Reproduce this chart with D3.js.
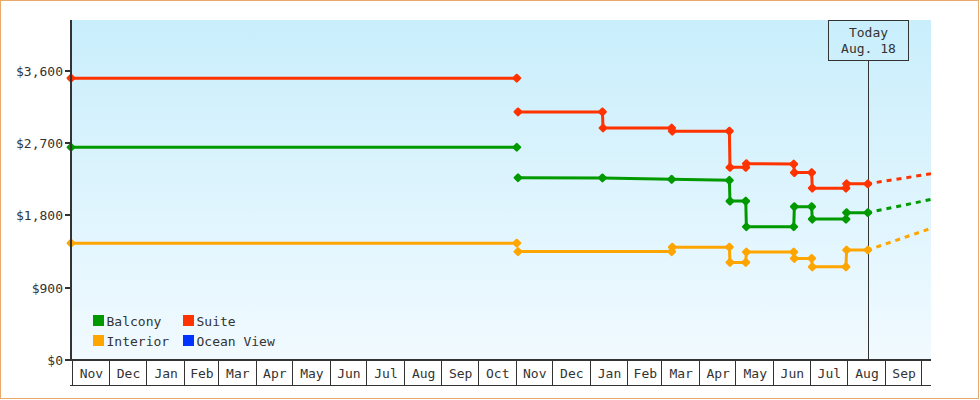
<!DOCTYPE html>
<html><head><meta charset="utf-8">
<script src="https://cdn.jsdelivr.net/npm/d3@7"></script>
<style>
html,body{margin:0;padding:0;background:#fff;}
svg{display:block;font-family:"DejaVu Sans Mono",monospace;}
</style></head><body>
<svg id="chart" width="980" height="400"></svg>
<script>
// ---------- data ----------
const seriesNames = ["Balcony", "Suite", "Interior", "Ocean View"];
const seriesColors = ["#009900", "#ff3300", "#ffa500", "#0033ff"];
const yTickValues = [0, 900, 1800, 2700, 3600];
const todayLabel = ["Today", "Aug. 18"];
const todayDate = "2015-08-18 00";
const domainDates = ["2013-10-31 00", "2015-10-09 00"];
const monthRange = ["2013-11-01 00", "2015-10-01 00"];

// earlier (launch) price segment
const launchDates = ["2013-10-31 00", "2014-11-02 00"];
const launchBalcony = [2650, 2650];
const launchSuite = [3510, 3510];
const launchInterior = [1455, 1455];

// current price history
const priceDates = ["2014-11-03 00", "2015-01-11 12", "2015-01-12 00", "2015-03-09 12", "2015-03-10 00",
  "2015-04-26 00", "2015-04-26 12", "2015-05-09 12", "2015-05-10 00", "2015-06-18 00",
  "2015-06-18 12", "2015-07-02 18", "2015-07-03 06", "2015-07-31 00", "2015-07-31 12", "2015-08-18 00"];
const priceBalcony = [2270, 2268, null, 2250, null, 2238, 1980, 1980, 1660, 1660, 1910, 1910, 1755, 1755, 1835, 1835];
const priceSuite = [3090, 3090, 2890, 2890, 2850, 2850, 2400, 2400, 2445, 2440, 2335, 2335, 2140, 2140, 2195, 2195];
const priceInterior = [1350, null, null, 1350, 1405, 1405, 1215, 1215, 1345, 1345, 1265, 1265, 1160, 1160, 1370, 1370];

// projection (dashed)
const projDates = ["2015-08-18 00", "2015-10-09 00"];
const projBalcony = [1835, 2000];
const projSuite = [2195, 2320];
const projInterior = [1370, 1640];

// ---------- drawing ----------
const parse = d3.timeParse("%Y-%m-%d %H");
const svg = d3.select("#chart");
const L = 71, R = 931, T = 20, B = 360;
const textColor = "#333";

svg.append("rect").attr("x", 0.5).attr("y", 0.5).attr("width", 978).attr("height", 398)
  .attr("fill", "#fff").attr("stroke", "#e8a96a");

const defs = svg.append("defs");
const grad = defs.append("linearGradient").attr("id", "bg").attr("x1", 0).attr("y1", 0).attr("x2", 0).attr("y2", 1);
grad.append("stop").attr("offset", "0%").attr("stop-color", "#c9eefc");
grad.append("stop").attr("offset", "100%").attr("stop-color", "#f1faff");
defs.append("clipPath").attr("id", "plotclip").append("rect")
  .attr("x", L - 6).attr("y", T).attr("width", R - L + 6).attr("height", B - T);

const x = d3.scaleTime().domain(domainDates.map(parse)).range([L, R]);
const y = d3.scaleLinear().domain([0, 4235]).range([B, T]);

svg.append("rect").attr("x", L + 1).attr("y", T).attr("width", R - L - 1).attr("height", B - T)
  .attr("fill", "url(#bg)");

// Today marker
const tx = Math.round(x(parse(todayDate))) + 0.5;
svg.append("line").attr("x1", tx).attr("x2", tx).attr("y1", 61).attr("y2", B)
  .attr("stroke", textColor).attr("stroke-width", 1).attr("shape-rendering", "crispEdges");
svg.append("rect").attr("x", tx - 40).attr("y", 20.5).attr("width", 80).attr("height", 40)
  .attr("fill", "none").attr("stroke", textColor).attr("stroke-width", 1).attr("shape-rendering", "crispEdges");
svg.selectAll("text.today").data(todayLabel).join("text").attr("class", "today")
  .attr("x", tx).attr("y", (d, i) => 37 + i * 16).attr("text-anchor", "middle")
  .attr("font-size", 13).attr("fill", textColor).text(d => d);

// series
const line = d3.line().x(d => x(d.date)).y(d => y(d.v));
function pts(dates, vals) {
  return dates.map((d, i) => ({date: parse(d), v: vals[i]})).filter(p => p.v != null);
}
const seriesData = [
  {color: seriesColors[0], launch: pts(launchDates, launchBalcony), price: pts(priceDates, priceBalcony), proj: pts(projDates, projBalcony)},
  {color: seriesColors[1], launch: pts(launchDates, launchSuite), price: pts(priceDates, priceSuite), proj: pts(projDates, projSuite)},
  {color: seriesColors[2], launch: pts(launchDates, launchInterior), price: pts(priceDates, priceInterior), proj: pts(projDates, projInterior)}
];
const plot = svg.append("g").attr("clip-path", "url(#plotclip)");
seriesData.forEach(s => {
  plot.append("path").datum(s.proj).attr("d", line).attr("fill", "none")
    .attr("stroke", s.color).attr("stroke-width", 3).attr("stroke-dasharray", "5,5").attr("stroke-dashoffset", -9);
  plot.append("path").datum(s.launch).attr("d", line).attr("fill", "none")
    .attr("stroke", s.color).attr("stroke-width", 3);
  plot.append("path").datum(s.price).attr("d", line).attr("fill", "none")
    .attr("stroke", s.color).attr("stroke-width", 3);
});
seriesData.forEach(s => {
  svg.append("g").selectAll("rect").data(s.launch.concat(s.price)).join("rect")
    .attr("x", -3.5).attr("y", -3.5).attr("width", 7).attr("height", 7).attr("rx", 1.2)
    .attr("fill", s.color)
    .attr("transform", d => `translate(${x(d.date)},${y(d.v)}) rotate(45)`);
});

// y axis
svg.append("line").attr("x1", L).attr("x2", L).attr("y1", T).attr("y2", B + 1)
  .attr("stroke", textColor).attr("stroke-width", 2).attr("shape-rendering", "crispEdges");
const fmt = v => "$" + d3.format(",")(v);
const yt = svg.append("g").selectAll("g").data(yTickValues).join("g")
  .attr("transform", d => `translate(0,${Math.round(y(d))})`);
yt.append("line").attr("x1", 65).attr("x2", L).attr("stroke", textColor).attr("stroke-width", 2)
  .attr("shape-rendering", "crispEdges");
yt.append("text").attr("x", 63).attr("dy", "0.35em").attr("text-anchor", "end")
  .attr("font-size", 13).attr("fill", textColor).text(fmt);

// x axis: month boxes
const months = d3.timeMonth.range(parse(monthRange[0]), d3.timeMonth.offset(parse(monthRange[1]), 1));
const ax = svg.append("g");
ax.append("line").attr("x1", L - 1).attr("x2", R).attr("y1", B).attr("y2", B)
  .attr("stroke", textColor).attr("stroke-width", 2).attr("shape-rendering", "crispEdges");
ax.append("line").attr("x1", L - 1).attr("x2", R).attr("y1", 385.5).attr("y2", 385.5)
  .attr("stroke", textColor).attr("stroke-width", 1).attr("shape-rendering", "crispEdges");
ax.selectAll("line.sep").data(months).join("line").attr("class", "sep")
  .attr("x1", d => Math.round(x(d)) + 0.5).attr("x2", d => Math.round(x(d)) + 0.5)
  .attr("y1", B).attr("y2", 386).attr("stroke", textColor).attr("stroke-width", 1)
  .attr("shape-rendering", "crispEdges");
ax.selectAll("text").data(months.slice(0, -1)).join("text")
  .attr("x", (d, i) => (x(d) + x(months[i + 1])) / 2 + 1).attr("y", 378)
  .attr("text-anchor", "middle").attr("font-size", 13).attr("fill", textColor)
  .text(d3.timeFormat("%b"));

// legend
const legendPos = [[93, 315], [183, 315], [93, 335], [183, 335]];
const lg = svg.append("g").selectAll("g").data(seriesNames).join("g")
  .attr("transform", (d, i) => `translate(${legendPos[i][0]},${legendPos[i][1]})`);
lg.append("rect").attr("width", 11).attr("height", 11).attr("fill", (d, i) => seriesColors[i]);
lg.append("text").attr("x", 13.5).attr("y", 10.5).attr("font-size", 13).attr("fill", textColor).text(d => d);
</script>
</body></html>
